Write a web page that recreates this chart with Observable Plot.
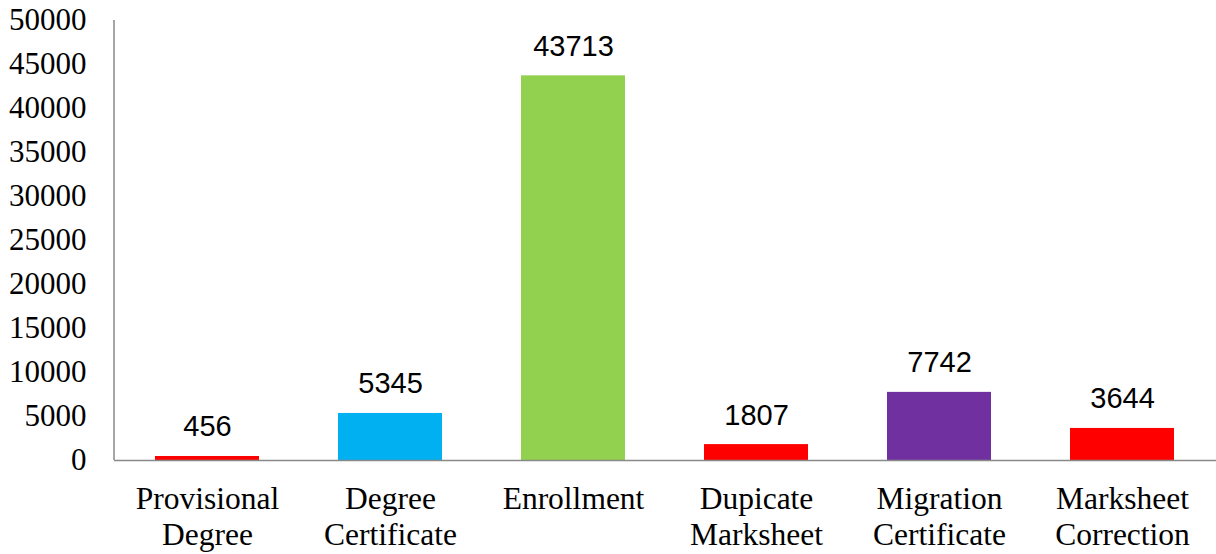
<!DOCTYPE html>
<html>
<head>
<meta charset="utf-8">
<script src="https://cdn.jsdelivr.net/npm/d3@7"></script>
<script src="https://cdn.jsdelivr.net/npm/@observablehq/plot@0.6"></script>
<style>
  html, body { margin: 0; padding: 0; background: #fff; }
  #chart svg { display: block; }
  #chart text.ytick { font-family: "Times New Roman", "Liberation Serif", "DejaVu Serif", serif !important; font-variant-numeric: normal !important; }
</style>
</head>
<body>
<div id="chart"></div>
<script>
const categories = ["Provisional Degree", "Degree Certificate", "Enrollment", "Dupicate Marksheet", "Migration Certificate", "Marksheet Correction"];
const tickLabels = ["Provisional\nDegree", "Degree\nCertificate", "Enrollment", "Dupicate\nMarksheet", "Migration\nCertificate", "Marksheet\nCorrection"];
const values = [456, 5345, 43713, 1807, 7742, 3644];
const colors = ["#ff0000", "#00b0f0", "#92d050", "#ff0000", "#7030a0", "#ff0000"];
const yTicks = [0, 5000, 10000, 15000, 20000, 25000, 30000, 35000, 40000, 45000, 50000];

const data = categories.map((c, i) => ({category: c, value: values[i], color: colors[i]}));
const axisColor = "#898989";
const serif = "'Liberation Serif', 'Times New Roman', serif";
const sans = "'Liberation Sans', Arial, sans-serif";

const yAxisLine = (index, scales, values, dims) => {
  const g = document.createElementNS("http://www.w3.org/2000/svg", "line");
  g.setAttribute("x1", dims.marginLeft);
  g.setAttribute("x2", dims.marginLeft);
  g.setAttribute("y1", scales.y(yTicks[yTicks.length - 1]));
  g.setAttribute("y2", scales.y(0));
  g.setAttribute("stroke", axisColor);
  g.setAttribute("stroke-width", 1.5);
  return g;
};

const chart = Plot.plot({
  width: 1216,
  height: 554,
  marginLeft: 114,
  marginRight: 0,
  marginTop: 20,
  marginBottom: 94,
  style: {background: "#fff", color: "#000", fontFamily: serif, fontSize: "31px"},
  x: {domain: categories, paddingInner: 0.43, paddingOuter: 0.215, label: null, axis: null},
  y: {domain: [0, 50000], label: null, axis: null},
  color: {type: "identity"},
  marks: [
    Plot.barY(data, {x: "category", y: "value", fill: "color"}),
    Plot.ruleY([0], {stroke: axisColor, strokeWidth: 1.5}),
    yAxisLine,
    Plot.text(yTicks, {y: d => d, text: d => String(d), frameAnchor: "left", textAnchor: "end", dx: -28, fontSize: 31, fill: "#000"}),
    Plot.text(categories, {x: d => d, text: (d, i) => tickLabels[i], frameAnchor: "bottom", lineAnchor: "top", dy: 23, fontSize: 31.5, lineHeight: 1.14, fill: "#000"}),
    Plot.text(data, {x: "category", y: "value", text: d => String(d.value), lineAnchor: "bottom", dy: -20, fontSize: 29, fill: "#000"})
  ]
});
const valueStrings = new Set(values.map(String));
const tickStrings = new Set(yTicks.map(String));
d3.select(chart).selectAll("text").each(function() {
  this.removeAttribute("font-variant");
  this.style.fontVariantNumeric = "normal";
  if (valueStrings.has(this.textContent)) {
    this.style.fontFamily = sans;
  } else if (tickStrings.has(this.textContent)) {
    this.classList.add("ytick");
  } else {
    this.style.fontFamily = serif;
  }
});
document.getElementById("chart").appendChild(chart);
</script>
</body>
</html>
